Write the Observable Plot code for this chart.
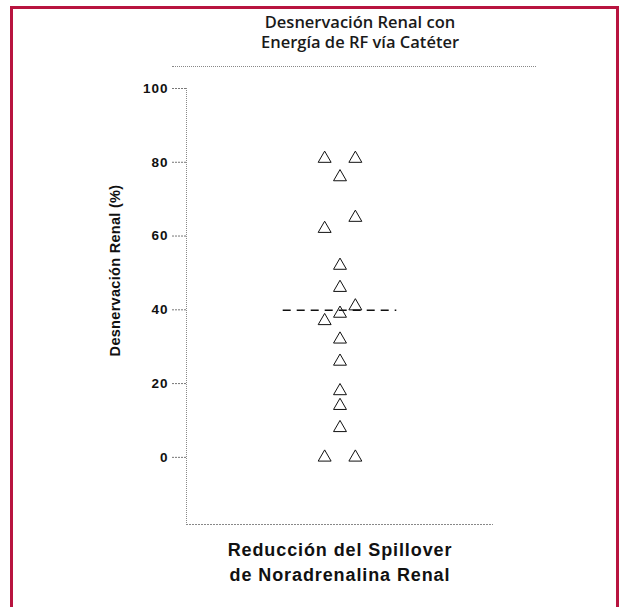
<!DOCTYPE html>
<html>
<head>
<meta charset="utf-8">
<script src="https://cdn.jsdelivr.net/npm/d3@7"></script>
<script src="https://cdn.jsdelivr.net/npm/@observablehq/plot@0.6"></script>
<style>
  html, body { margin: 0; padding: 0; background: #fff; overflow: hidden; }
  #wrap { position: relative; width: 619px; height: 607px; overflow: hidden; }
  #frame { position: absolute; left: 10px; top: 6px; width: 603px; height: 700px;
           border-left: 3px solid #b8143f; border-top: 3px solid #b8143f; border-right: 3px solid #b8143f; }
  #title { position: absolute; left: 160px; width: 400px; top: 12px; text-align: center;
           font-family: "Open Sans", "Noto Sans", sans-serif; font-weight: 600; font-size: 16.5px; line-height: 20px; color: #1a1a1a; }
  #titlerule { position: absolute; left: 172px; width: 364px; top: 66px; border-top: 1px dotted #888; }
  #chart { position: absolute; left: 0; top: 0; }
  g[aria-label="y-axis tick label"] text { letter-spacing: 1px; }
</style>
</head>
<body>
<div id="wrap">
  <div id="frame"></div>
  <div id="title">Desnervación Renal con<br>Energía de RF vía Catéter</div>
  <div id="titlerule"></div>
  <div id="chart"></div>
</div>
<script>
// Data
const values  = [81, 81, 76, 65, 62, 52, 46, 41, 39, 37, 32, 26, 18, 14, 8, 0, 0];
const columns = [-1, 1, 0, 1, -1, 0, 0, 1, 0, -1, 0, 0, 0, 0, 0, -1, 1];
const yTicks = [0, 20, 40, 60, 80, 100];
const xDomain = [-10, 10];
const yDomain = [-18.2, 100];
const meanExtent = [-3.7, 3.7];
const yLabel = "Desnervación Renal (%)";
const xLabel = "Reducción del Spillover\nde Noradrenalina Renal";

const data = values.map((v, i) => ({val: v, col: columns[i]}));
const mean = d3.mean(values);

const chart = Plot.plot({
  width: 619,
  height: 607,
  marginLeft: 186,
  marginRight: 126,
  marginTop: 88,
  marginBottom: 83,
  style: {fontFamily: "'Liberation Sans', Arial, sans-serif", background: "transparent", color: "#111"},
  x: {domain: xDomain, axis: null},
  y: {domain: yDomain, axis: null},
  marks: [
    Plot.ruleX([xDomain[0]], {stroke: "#888", strokeDasharray: "1,1"}),
    Plot.ruleY([yDomain[0]], {stroke: "#888", strokeDasharray: "2,1", strokeWidth: 1.2}),
    Plot.axisY(yTicks, {tickSize: 14, tickPadding: 4, stroke: "#777", fill: "#111",
      strokeDasharray: "2,1", fontSize: 13.5, fontWeight: "bold", label: null}),
    Plot.ruleY([mean], {x1: meanExtent[0], x2: meanExtent[1], stroke: "#111",
      strokeWidth: 1.4, strokeDasharray: "8,6"}),
    Plot.dot(data, {x: "col", y: "val", symbol: "triangle", r: 4.8, stroke: "#111",
      strokeWidth: 1, fill: "none"}),
    Plot.text([yLabel], {frameAnchor: "left", textAnchor: "middle", rotate: -90, dx: -71, dy: -36,
      fontSize: 14.5, fontWeight: "bold", fill: "#111"}),
    Plot.text([xLabel], {frameAnchor: "bottom", lineAnchor: "top", dy: 14,
      fontSize: 18, fontWeight: "bold", lineHeight: 1.39, fill: "#111"})
  ]
});
// letter spacing for the axis titles
d3.select(chart).selectAll("text").each(function() {
  const t = this.textContent;
  if (t.startsWith("Reducción")) this.style.letterSpacing = "0.9px";
  else if (t.startsWith("Desnervación")) this.style.letterSpacing = "0.3px";
});
document.getElementById("chart").appendChild(chart);
</script>
</body>
</html>
